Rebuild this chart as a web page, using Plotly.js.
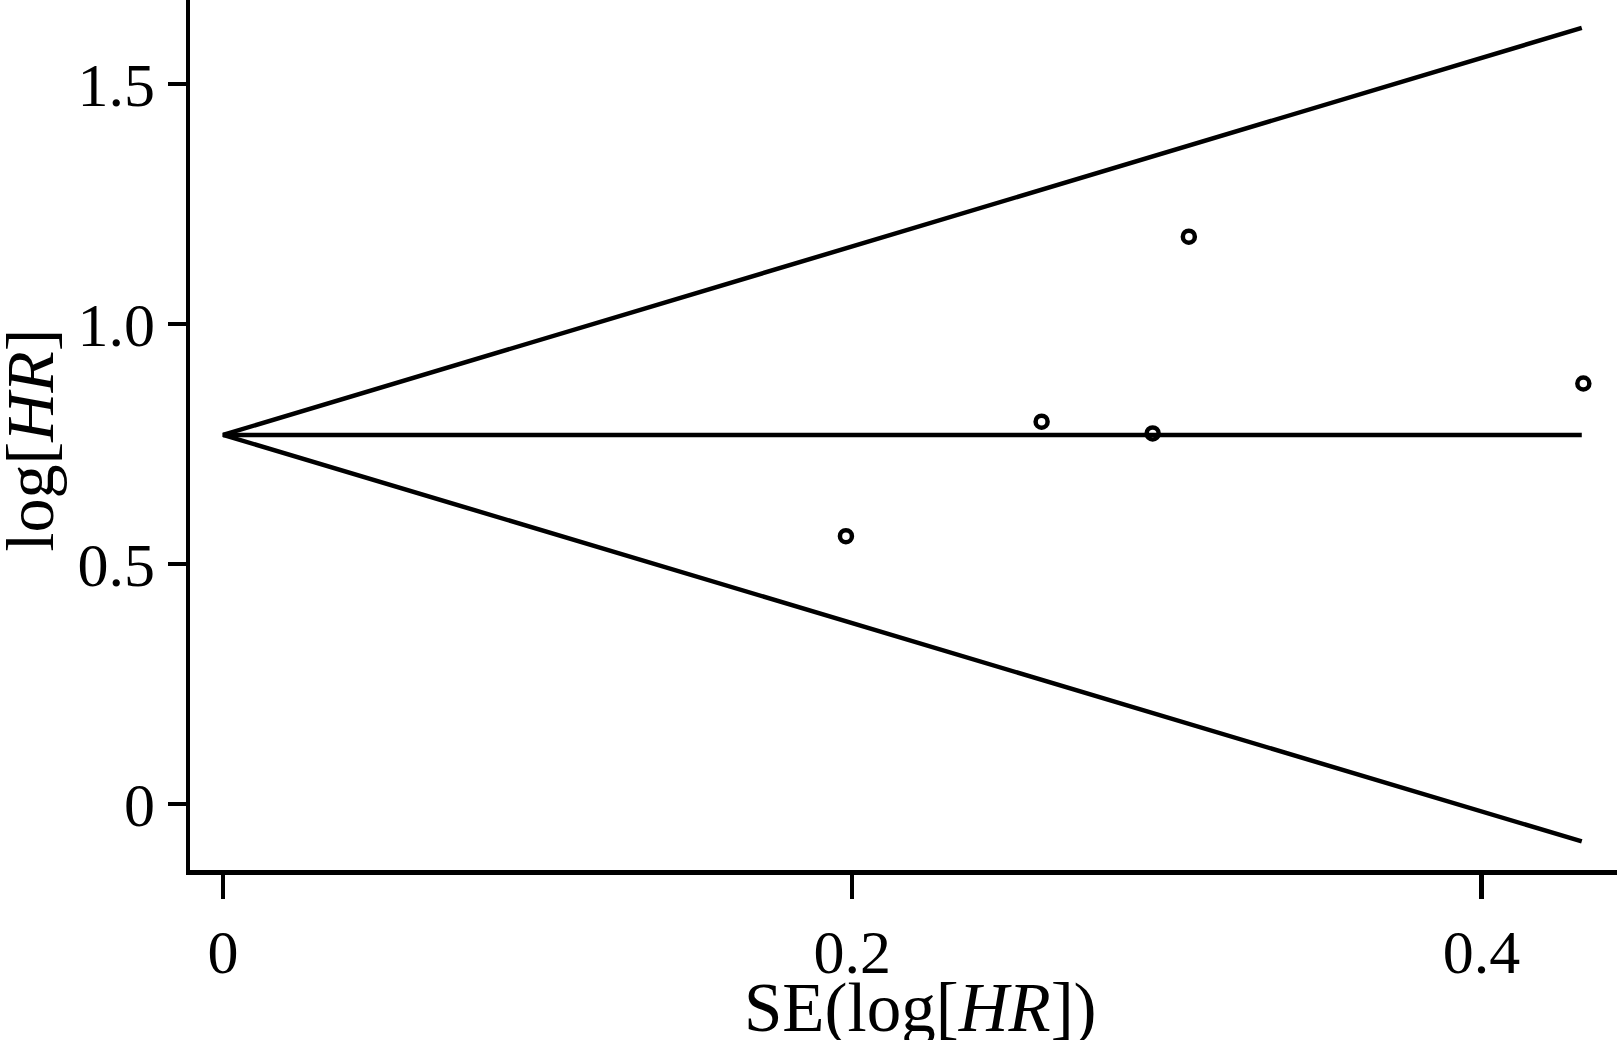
<!DOCTYPE html>
<html>
<head>
<meta charset="utf-8">
<script src="https://cdn.plot.ly/plotly-3.0.1.min.js"></script>
<style>
  html, body { margin: 0; padding: 0; background: #ffffff; }
  #chart { width: 1617px; height: 1040px; }
</style>
</head>
<body>
<div id="chart"></div>
<script>
// Study estimates
const studySE    = [0.198, 0.2602, 0.2955, 0.3070, 0.4324];
const studyLogHR = [0.558, 0.7965, 0.772, 1.182, 0.876];

// Funnel (pooled estimate and 95% limits)
const funnelSE    = [0.4319, 0, 0.4319];
const funnelLimit = [1.617, 0.769, -0.078];
const pooledSE    = [0, 0.4319];
const pooledLogHR = [0.769, 0.769];

// Tick labels
const xTickVals = [0, 0.2, 0.4];
const xTickText = ['0', '0.2', '0.4'];
const yTickVals = [0, 0.5, 1.0, 1.5];
const yTickText = ['0', '0.5', '1.0', '1.5'];

const FONT = 'Liberation Serif, Times New Roman, serif';

const traces = [
  {
    x: funnelSE, y: funnelLimit, type: 'scatter', mode: 'lines',
    line: { color: '#000000', width: 4.5 }, hoverinfo: 'skip', showlegend: false
  },
  {
    x: pooledSE, y: pooledLogHR, type: 'scatter', mode: 'lines',
    line: { color: '#000000', width: 4.5 }, hoverinfo: 'skip', showlegend: false
  },
  {
    x: studySE, y: studyLogHR, type: 'scatter', mode: 'markers',
    marker: { symbol: 'circle-open', size: 12, color: '#000000', line: { width: 4.5, color: '#000000' } },
    showlegend: false
  }
];

const layout = {
  width: 1617, height: 1040,
  margin: { l: 190, r: 0, t: 0, b: 170, pad: 0 },
  paper_bgcolor: '#ffffff', plot_bgcolor: '#ffffff',
  font: { family: FONT, size: 62, color: '#000000' },
  showlegend: false,
  xaxis: {
    range: [-0.0105, 0.4431],
    tickmode: 'array', tickvals: xTickVals, ticktext: xTickText,
    ticks: 'outside', ticklen: 24, tickwidth: 4.5, tickcolor: '#000000',
    showline: true, linewidth: 4.5, linecolor: '#000000',
    showgrid: false, zeroline: false,
    tickfont: { family: FONT, size: 62, color: '#000000' }
  },
  yaxis: {
    range: [-0.1375, 1.675],
    tickmode: 'array', tickvals: yTickVals, ticktext: yTickText,
    ticks: 'outside', ticklen: 18, tickwidth: 4.5, tickcolor: '#000000',
    showline: true, linewidth: 4.5, linecolor: '#000000',
    showgrid: false, zeroline: false,
    tickfont: { family: FONT, size: 62, color: '#000000' }
  },
  annotations: [
    {
      text: 'SE(log[<i>HR</i>])', xref: 'paper', yref: 'paper',
      x: 0.5116, y: -0.1585, xanchor: 'center', yanchor: 'middle',
      showarrow: false, font: { family: FONT, size: 69, color: '#000000' }
    },
    {
      text: 'log[<i>HR</i>]', xref: 'paper', yref: 'paper',
      x: -0.1125, y: 0.4943, xanchor: 'center', yanchor: 'middle', textangle: -90,
      showarrow: false, font: { family: FONT, size: 68, color: '#000000' }
    }
  ]
};

Plotly.newPlot('chart', traces, layout, { displayModeBar: false, staticPlot: true });
</script>
</body>
</html>
